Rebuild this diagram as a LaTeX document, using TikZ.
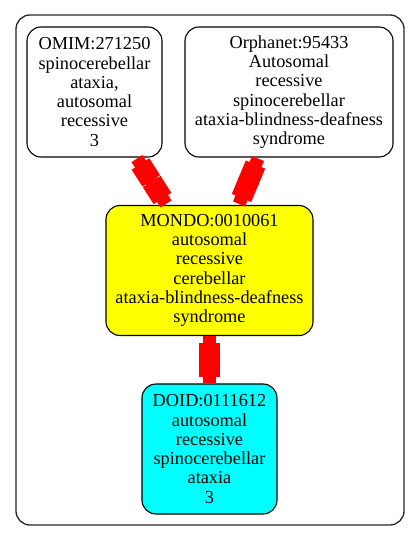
\documentclass[tikz,border=0pt]{standalone}
\usepackage{fontspec}
\setmainfont{Liberation Serif}
\usetikzlibrary{calc}
\definecolor{gvyellow}{RGB}{255,255,0}
\definecolor{gvcyan}{RGB}{0,255,255}
\definecolor{gvred}{RGB}{255,0,0}
\begin{document}
\begin{tikzpicture}[x=1pt,y=-1pt,
  nd/.style={draw, rounded corners=14pt, line width=1.1pt, align=center, inner sep=0pt,
    minimum height=130pt, font=\fontsize{18.3}{19.3}\selectfont},
  edgeline/.style={draw=gvred, line width=13pt},
  ebox/.style={fill=gvred, minimum width=20pt, minimum height=21pt, inner sep=0pt, sloped, allow upside down}]
\useasboundingbox (0,0) rectangle (420,541);
\node[draw=black!85, rounded corners=14pt, line width=1.3pt, minimum width=388pt, minimum height=510pt, inner sep=0pt] (cluster) at (210,270) {};
\node[nd, minimum width=135pt] (omim) at (94.5,92) {OMIM:271250\\spinocerebellar\\ataxia,\\autosomal\\recessive\\3};
\node[nd, minimum width=208pt] (orpha) at (289,92) {Orphanet:95433\\Autosomal\\recessive\\spinocerebellar\\ataxia-blindness-deafness\\syndrome};
\node[nd, fill=gvyellow, minimum width=207pt] (mondo) at (209.5,270.5) {MONDO:0010061\\autosomal\\recessive\\cerebellar\\ataxia-blindness-deafness\\syndrome};
\node[nd, fill=gvcyan, minimum width=135pt] (doid) at (209.5,449) {DOID:0111612\\autosomal\\recessive\\spinocerebellar\\ataxia\\3};
\draw[edgeline] ($(omim.south)+(42.5,1)$) -- ($(mondo.north)+(-43.5,-1)$)
  node[ebox, at start, anchor=west] {} node[ebox, at end, anchor=east] {};
\draw[edgeline] ($(orpha.south)+(-31,1)$) -- ($(mondo.north)+(29.5,-1)$)
  node[ebox, at start, anchor=west] {} node[ebox, at end, anchor=east] {};
\draw[edgeline] (mondo.south) -- (doid.north)
  node[ebox, at start, anchor=west] {} node[ebox, at end, anchor=east] {};
\end{tikzpicture}
\end{document}
